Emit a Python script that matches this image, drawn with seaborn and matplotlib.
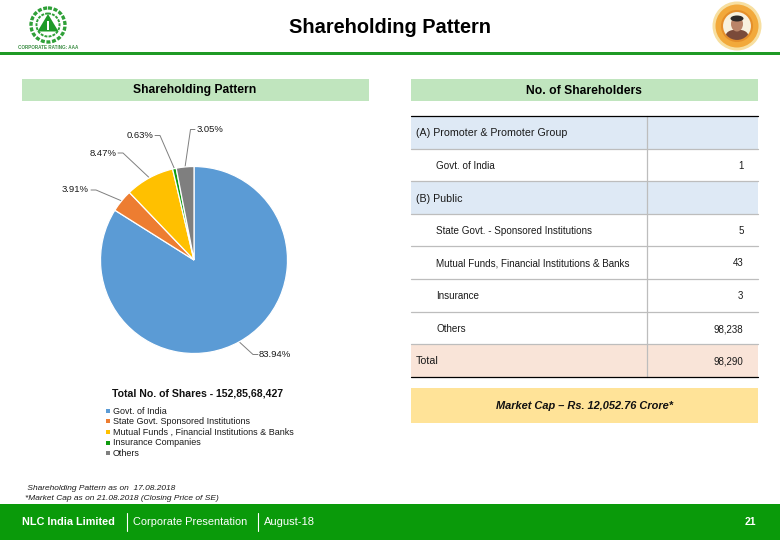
import numpy as np
import seaborn as sns
import matplotlib
matplotlib.use("Agg")
import matplotlib.pyplot as plt
from matplotlib.patches import Rectangle, Circle, Polygon, Ellipse

# ---- data ----
share_labels = ["Govt. of India", "State Govt. Sponsored Institutions",
                "Mutual Funds , Financial Institutions & Banks",
                "Insurance Companies", "Others"]
share_values = [83.94, 3.91, 8.47, 0.63, 3.05]
share_text = ["83.94%", "3.91%", "8.47%", "0.63%", "3.05%"]
share_colors = ["#5B9BD5", "#ED7D31", "#FFC000", "#0F9B0F", "#7F7F7F"]

row_names = ["(A) Promoter & Promoter Group", "Govt. of India", "(B) Public",
             "State Govt. - Sponsored Institutions",
             "Mutual Funds, Financial Institutions & Banks",
             "Insurance", "Others", "Total"]
row_counts = ["", "1", "", "5", "43", "3", "98,238", "98,290"]
row_kinds = ["head", "item", "head", "item", "item", "item", "item", "total"]

main_title = "Shareholding Pattern"
left_title = "Shareholding Pattern"
right_title = "No. of Shareholders"
shares_total = "Total No. of Shares - 152,85,68,427"
market_cap = "Market Cap – Rs. 12,052.76 Crore*"
foot_notes = [" Shareholding Pattern as on  17.08.2018",
              "*Market Cap as on 21.08.2018 (Closing Price of SE)"]
footer_items = ["NLC India Limited", "Corporate Presentation", "August-18"]
page_no = "21"

sns.set_theme(style="white", palette=sns.color_palette(share_colors))
plt.rcParams["font.family"] = ["Liberation Sans", "DejaVu Sans"]

W, H = 780, 540
fig = plt.figure(figsize=(W / 100, H / 100), dpi=100, facecolor="white")
bg = fig.add_axes([0, 0, 1, 1])
bg.set_xlim(0, W)
bg.set_ylim(H, 0)
bg.axis("off")

GREEN = "#0A9A0A"
TXT = "#1A1A1A"
# header
bg.add_patch(Rectangle((0, 52), W, 2.6, color="#1F9A25", lw=0))
bg.text(390, 27.5, main_title, ha="center", va="center", fontsize=14.4, weight="bold", color="black")

# logo
bg.add_patch(Circle((48, 25), 17, fill=False, ec="#2FA038", lw=2.4, ls=(0, (1.2, 0.5))))
bg.add_patch(Circle((48, 25), 11.5, fill=False, ec="#2FA038", lw=1.4, ls=(0, (1.5, 0.6))))
bg.add_patch(Polygon([[48, 14], [37.5, 31.5], [58.5, 31.5]], color="#1E9A28", lw=0))
bg.add_patch(Rectangle((46.7, 21), 2.6, 9, color="white", lw=0))
bg.text(48, 47.3, "CORPORATE RATING: AAA", ha="center", va="center", fontsize=3.3,
        color="#3C8E44", weight="bold")

# emblem on the right
bg.add_patch(Circle((737, 26), 24.5, color="#F7DFA0", lw=0))
bg.add_patch(Circle((737, 26), 21.5, color="#F2A93B", lw=0))
bg.add_patch(Circle((737, 26), 15, color="#F8F1DE", lw=0))
bg.add_patch(Ellipse((737, 35), 22, 11, color="#7A4A3A", lw=0))
bg.add_patch(Ellipse((737, 24), 12, 15, color="#B98468", lw=0))
bg.add_patch(Ellipse((737, 18.5), 13, 6, color="#2E2A28", lw=0))
bg.add_patch(Circle((737, 26), 15, fill=False, ec="#E58F2A", lw=1.5))

# section headers
bg.add_patch(Rectangle((22, 79), 347, 22, color="#C0E5BE", lw=0))
bg.text(195, 90.5, left_title, ha="center", va="center", fontsize=8.7, weight="bold", color="black")
bg.add_patch(Rectangle((411, 79), 347, 22, color="#C0E5BE", lw=0))
bg.text(584, 90.5, right_title, ha="center", va="center", fontsize=8.7, weight="bold", color="black")

# pie
cx, cy, rad = 194, 260, 93.5
pie_ax = fig.add_axes([(cx - rad) / W, 1 - (cy + rad) / H, 2 * rad / W, 2 * rad / H])
wedges, _ = pie_ax.pie(share_values, colors=share_colors, startangle=90, counterclock=False,
                       radius=1.0, wedgeprops=dict(edgecolor="white", linewidth=0.9))
pie_ax.set_xlim(-1, 1)
pie_ax.set_ylim(-1, 1)

# (text centre x, text y, elbow x, end x)
label_pos = [(275, 354.5, 253, 258), (75, 190, 96, 91), (103, 153, 123, 118),
             (140, 135.5, 160, 155), (210, 129.5, 190.5, 195)]
for w, t, (lx, ly, ex, end) in zip(wedges, share_text, label_pos):
    a = np.deg2rad((w.theta1 + w.theta2) / 2)
    px, py = cx + rad * np.cos(a), cy - rad * np.sin(a)
    bg.plot([px, ex, end], [py, ly, ly], color="#7F7F7F", lw=0.7, zorder=3)
    bg.text(lx, ly, t, ha="center", va="center", fontsize=6.8, color=TXT)

# legend block
bg.text(197.5, 393, shares_total, ha="center", va="center", fontsize=7.55, weight="bold", color="#111111")
legend_y = [411, 421, 432, 442.5, 453]
for name, col, y in zip(share_labels, share_colors, legend_y):
    bg.add_patch(Rectangle((106, y - 2), 4, 4, color=col, lw=0))
    bg.text(113, y, name, ha="left", va="center", fontsize=6.45, color=TXT)

# table
row_edges = [116.3, 148.7, 181.3, 214.3, 246.3, 279, 312.3, 344.3, 377.3]
fills = {"head": "#DEE9F5", "item": "white", "total": "#F9E4D8"}
for i, (name, count, kind) in enumerate(zip(row_names, row_counts, row_kinds)):
    y0, y1 = row_edges[i], row_edges[i + 1]
    ym = (y0 + y1) / 2 + 0.7
    bg.add_patch(Rectangle((411, y0), 347, y1 - y0, color=fills[kind], lw=0, zorder=1))
    tx = 436.5 if kind == "item" else 416
    bg.text(tx, ym, name, ha="left", va="center", color=TXT, zorder=3,
            fontsize=7.7 if kind != "item" else 7.1)
    if count:
        bg.text(743.5, ym, count, ha="right", va="center", fontsize=7, color=TXT, zorder=3)
    if 0 < i:
        bg.plot([411, 758], [y0, y0], color="#BDBDBD", lw=0.9, zorder=2)
bg.plot([646.7, 646.7], [row_edges[0], row_edges[-1]], color="#BDBDBD", lw=0.9, zorder=2)
bg.plot([411, 758], [row_edges[0]] * 2, color="black", lw=0.9, zorder=4)
bg.plot([411, 758], [row_edges[-1]] * 2, color="black", lw=0.9, zorder=4)

# market cap
bg.add_patch(Rectangle((411, 388), 347, 35, color="#FFE398", lw=0))
bg.text(585, 406, market_cap, ha="center", va="center", fontsize=7.9, weight="bold",
        style="italic", color="#111111")

# foot notes
bg.text(25, 488.5, foot_notes[0], ha="left", va="center", fontsize=6.05, style="italic", color=TXT)
bg.text(25, 498.5, foot_notes[1], ha="left", va="center", fontsize=6.05, style="italic", color=TXT)

# footer band
bg.add_patch(Rectangle((0, 504), W, 36, color=GREEN, lw=0))
bg.text(22, 522, footer_items[0], ha="left", va="center", fontsize=7.85, weight="bold", color="white")
bg.plot([126.5, 126.5], [513, 531], color="white", lw=0.8)
bg.text(133, 522, footer_items[1], ha="left", va="center", fontsize=7.9, color="white")
bg.plot([257.5, 257.5], [513, 531], color="white", lw=0.8)
bg.text(264, 522, footer_items[2], ha="left", va="center", fontsize=8, color="white")
bg.text(750, 522, page_no, ha="center", va="center", fontsize=7.5, weight="bold", color="white")

fig.savefig("out.png", dpi=100)
